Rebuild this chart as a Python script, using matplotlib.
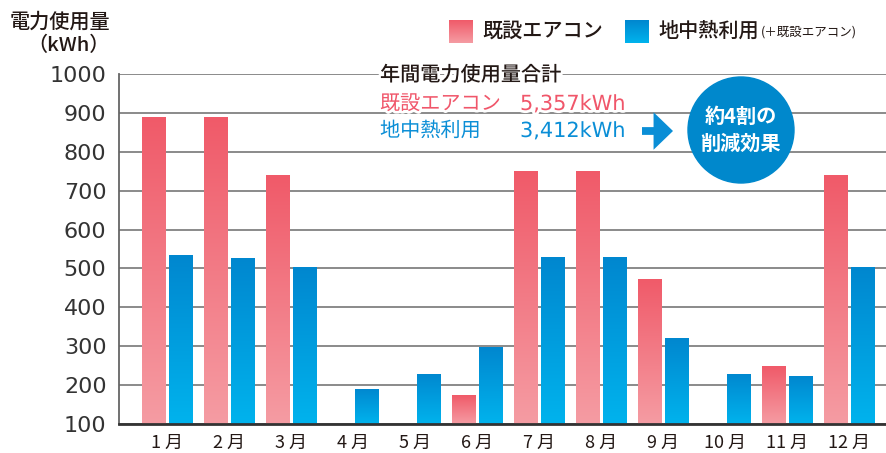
import numpy as np
import matplotlib
matplotlib.use("Agg")
import matplotlib.pyplot as plt
import matplotlib.patheffects as pe
from matplotlib.patches import Ellipse
from matplotlib.colors import LinearSegmentedColormap

plt.rcParams['font.family'] = ['Noto Sans CJK JP', 'DejaVu Sans']

# data (kWh per month)
months = ['1 月', '2 月', '3 月', '4 月', '5 月', '6 月', '7 月', '8 月', '9 月', '10 月', '11 月', '12 月']
aircon = [889, 889, 740, np.nan, np.nan, 174, 751, 751, 474, np.nan, 249, 740]
geo = [534, 526, 503, 191, 229, 297, 529, 529, 320, 229, 223, 503]
yticks = [100, 200, 300, 400, 500, 600, 700, 800, 900, 1000]

total_aircon = '5,357kWh'
total_geo = '3,412kWh'

red_top, red_bot = '#f05a69', '#f59ca3'
blue_top, blue_bot = '#0087cf', '#00b3ed'
grey = '#8a8a8a'
dark = '#231815'
num_font = 'DejaVu Sans'

W, H = 887, 453
fig = plt.figure(figsize=(W / 100, H / 100), dpi=100)
ax = fig.add_axes([119 / W, 1 - 424 / H, 1 - 119 / W, (424 - 74) / H])

x = np.arange(len(months))
bw = 0.38
off = 0.215
grad = np.linspace(0, 1, 256).reshape(-1, 1)


def grad_bars(xpos, vals, ctop, cbot):
    cmap = LinearSegmentedColormap.from_list('g', [cbot, ctop])
    bars = ax.bar(xpos, np.array(vals) - 100, bw, bottom=100, color='none', edgecolor='none')
    for b in bars:
        h = b.get_height()
        if np.isnan(h):
            continue
        x0, y0, w = b.get_x(), b.get_y(), b.get_width()
        im = ax.imshow(grad, cmap=cmap, origin='lower', aspect='auto',
                       extent=[x0, x0 + w, y0, y0 + h], zorder=2)
        im.set_clip_path(b)


grad_bars(x - off, aircon, red_top, red_bot)
grad_bars(x + off, geo, blue_top, blue_bot)

ax.set_xlim(-0.774, 11.61)
ax.set_ylim(100, 1000)
ax.set_yticks(yticks)
ax.set_yticklabels([str(v) for v in yticks], fontsize=16, color='#333333', family=num_font)
ax.set_xticks(x)
ax.set_xticklabels(months, fontsize=13, color=dark)
ax.tick_params(length=0, pad=7)
ax.tick_params(axis='y', pad=9)
ax.yaxis.grid(True, color=grey, lw=1.4)
ax.set_axisbelow(True)
for s in ['top', 'right']:
    ax.spines[s].set_visible(False)
ax.spines['left'].set_color('#666666')
ax.spines['left'].set_linewidth(1.3)
ax.spines['bottom'].set_color('#333333')
ax.spines['bottom'].set_linewidth(2)
ax.spines['bottom'].set_zorder(5)

# y axis title
fig.text(110 / W, 1 - 22 / H, '電力使用量', ha='right', va='center', fontsize=14.5,
         color=dark, weight='medium')
fig.text(110 / W, 1 - 45 / H, '（kWh）', ha='right', va='center', fontsize=14.5,
         color=dark, weight='medium')

# legend swatches with the same gradients as the bars
for left, ctop, cbot in [(449, red_top, red_bot), (625, blue_top, blue_bot)]:
    sw = fig.add_axes([left / W, 1 - 43 / H, 24 / W, 23 / H])
    sw.imshow(grad, cmap=LinearSegmentedColormap.from_list('s', [cbot, ctop]),
              origin='lower', aspect='auto')
    sw.axis('off')
fig.text(482 / W, 1 - 31 / H, '既設エアコン', ha='left', va='center', fontsize=14.5,
         color=dark, weight='medium')
fig.text(658 / W, 1 - 31 / H, '地中熱利用', ha='left', va='center', fontsize=14.5,
         color=dark, weight='medium')
fig.text(761 / W, 1 - 32 / H, '(＋既設エアコン)', ha='left', va='center', fontsize=9,
         color=dark)

# annual totals
stroke = [pe.withStroke(linewidth=4, foreground='white')]
fig.text(380 / W, 1 - 75 / H, '年間電力使用量合計', ha='left', va='center', fontsize=14.5,
         color=dark, weight='medium', path_effects=stroke, zorder=10)
fig.text(380 / W, 1 - 104 / H, '既設エアコン', ha='left', va='center', fontsize=14.5,
         color='#f0566a', path_effects=stroke, zorder=10)
fig.text(520 / W, 1 - 104 / H, total_aircon, ha='left', va='center', fontsize=15,
         color='#f0566a', family=num_font, path_effects=stroke, zorder=10)
fig.text(380 / W, 1 - 131 / H, '地中熱利用', ha='left', va='center', fontsize=14.5,
         color='#0a8ed6', path_effects=stroke, zorder=10)
fig.text(520 / W, 1 - 131 / H, total_geo, ha='left', va='center', fontsize=15,
         color='#0a8ed6', family=num_font, path_effects=stroke, zorder=10)

ax.annotate('', xy=(673, H - 131), xytext=(642, H - 131), xycoords='figure pixels',
            textcoords='figure pixels',
            arrowprops=dict(arrowstyle='simple,head_width=1.35,head_length=0.7,tail_width=0.28',
                            mutation_scale=20, fc='#0a8ed6', ec='none',
                            shrinkA=0, shrinkB=0), zorder=10)

# reduction badge
fig.patches.append(Ellipse((741 / W, 1 - 130 / H), 106 / W, 106 / H,
                           transform=fig.transFigure, color='#0088cc', zorder=10))
fig.text(741 / W, 1 - 116 / H, '約4割の', ha='center', va='center', fontsize=14.5,
         color='white', weight='bold', zorder=11)
fig.text(741 / W, 1 - 143 / H, '削減効果', ha='center', va='center', fontsize=14.5,
         color='white', weight='bold', zorder=11)

plt.savefig('out.png', dpi=100)
